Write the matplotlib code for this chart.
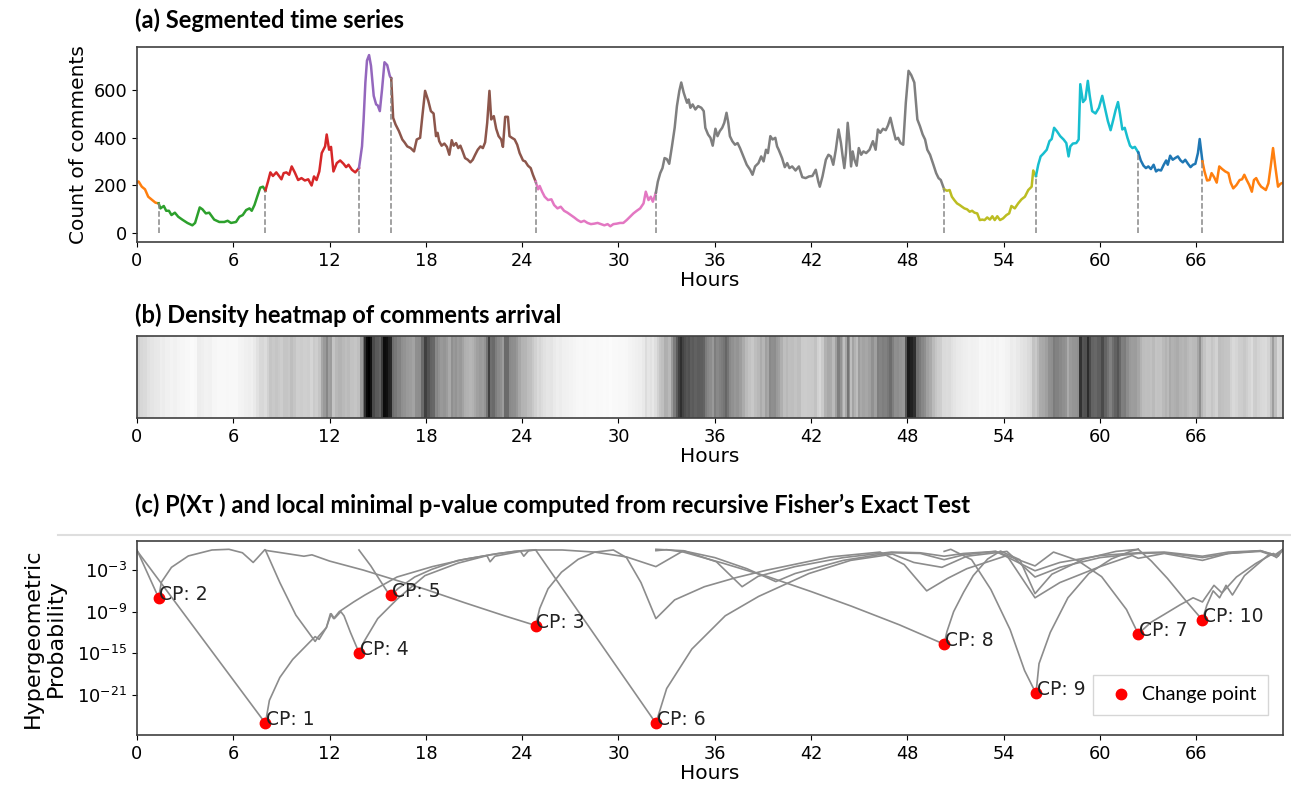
import numpy as np
import matplotlib
matplotlib.use('Agg')
import matplotlib.pyplot as plt
from matplotlib.lines import Line2D

# ---- (a) comment counts (hour, count) ----
hours = [0.0, 0.1, 0.3, 0.5, 0.7, 0.95, 1.15, 1.35,
         1.46, 1.67, 1.82, 1.99, 2.15, 2.36, 2.57, 2.82, 3.14, 3.45, 3.62, 3.91, 4.08, 4.29, 4.50, 4.81,
         5.13, 5.44, 5.65, 5.86, 6.17, 6.38, 6.59, 6.80, 7.01, 7.15, 7.32, 7.49, 7.68, 7.85, 8.0,
         8.16, 8.31, 8.47, 8.68, 8.85, 9.0, 9.14, 9.31, 9.48, 9.64, 9.83, 10.04, 10.25, 10.46, 10.67,
         10.88, 11.03, 11.19, 11.36, 11.51, 11.72, 11.82, 11.97, 12.09, 12.24, 12.45, 12.66, 12.87,
         13.03, 13.18, 13.39, 13.60, 13.83,
         14.02, 14.12, 14.23, 14.33, 14.46, 14.58, 14.75, 14.90, 15.0, 15.13, 15.27, 15.42, 15.59, 15.75, 15.84,
         15.96, 16.11, 16.32, 16.53, 16.67, 16.84, 17.05, 17.26, 17.43, 17.64, 17.78, 17.95, 18.15, 18.31,
         18.48, 18.63, 18.73, 18.83, 18.98, 19.15, 19.31, 19.46, 19.61, 19.73, 19.88, 20.02, 20.15, 20.29,
         20.44, 20.61, 20.77, 20.92, 21.07, 21.23, 21.40, 21.55, 21.69, 21.82, 21.96, 22.07, 22.23, 22.38,
         22.53, 22.69, 22.80, 22.94, 23.11, 23.21, 23.36, 23.53, 23.69, 23.84, 24.05, 24.19, 24.36, 24.53,
         24.67, 24.84,
         24.99, 25.09, 25.24, 25.40, 25.61, 25.82, 25.99, 26.20, 26.40, 26.61, 26.82, 27.03, 27.24, 27.45,
         27.66, 27.86, 28.07, 28.28, 28.49, 28.70, 28.91, 29.12, 29.32, 29.49, 29.68, 29.89, 30.10, 30.30,
         30.51, 30.72, 30.93, 31.14, 31.35, 31.56, 31.70, 31.87, 32.01, 32.14, 32.33,
         32.45, 32.60, 32.74, 32.87, 33.01, 33.16, 33.33, 33.50, 33.64, 33.79, 33.91, 34.06, 34.16, 34.27,
         34.37, 34.48, 34.62, 34.79, 34.96, 35.16, 35.31, 35.41, 35.58, 35.73, 35.87,
         36.04, 36.17, 36.31, 36.46, 36.59, 36.73, 36.84, 36.94, 37.09, 37.26, 37.42, 37.57, 37.78, 37.99,
         38.20, 38.35, 38.51, 38.72, 38.89, 39.04, 39.19, 39.31, 39.46, 39.60, 39.77, 39.88, 39.98, 40.19,
         40.36, 40.51, 40.65, 40.82, 41.03, 41.24, 41.45, 41.66, 41.87, 42.08, 42.29, 42.45, 42.54, 42.71,
         42.92, 43.08, 43.23, 43.38, 43.54, 43.71, 43.86, 43.96, 44.07, 44.17, 44.28, 44.38, 44.49, 44.59,
         44.70, 44.84, 44.97, 45.12, 45.26, 45.43, 45.64, 45.85, 46.02, 46.16, 46.31, 46.48, 46.65, 46.79,
         46.94, 47.11, 47.27, 47.42, 47.57, 47.74, 47.90, 48.07, 48.24, 48.43, 48.62, 48.78, 48.95, 49.10,
         49.24, 49.41, 49.62, 49.79, 49.94, 50.08, 50.29,
         50.46, 50.63, 50.77, 50.92, 51.09, 51.26, 51.40, 51.55, 51.72, 51.88, 52.03, 52.18, 52.35, 52.51,
         52.66, 52.81, 52.97, 53.14, 53.29, 53.44, 53.60, 53.77, 53.96, 54.17, 54.34, 54.48, 54.69, 54.90,
         55.11, 55.32, 55.53, 55.74, 55.84, 56.01,
         56.15, 56.30, 56.46, 56.68, 56.85, 56.99, 57.14, 57.31, 57.52, 57.73, 57.90, 58.04, 58.15, 58.31,
         58.52, 58.67, 58.77, 58.94, 59.09, 59.24, 59.36, 59.51, 59.72, 59.93, 60.14, 60.35, 60.49, 60.66,
         60.83, 60.97, 61.12, 61.25, 61.39, 61.54, 61.71, 61.87, 62.02, 62.17, 62.38,
         62.54, 62.71, 62.86, 63.01, 63.17, 63.34, 63.49, 63.63, 63.80, 63.97, 64.12, 64.22, 64.37, 64.53,
         64.68, 64.85, 65.02, 65.16, 65.31, 65.48, 65.64, 65.79, 65.94, 66.10, 66.21, 66.38,
         66.51, 66.67, 66.82, 66.95, 67.11, 67.27, 67.43, 67.61, 67.80, 68.00, 68.14, 68.30, 68.50, 68.70,
         68.85, 68.99, 69.14, 69.30, 69.46, 69.59, 69.73, 69.89, 70.04, 70.19, 70.33, 70.49, 70.64, 70.78,
         70.92, 71.09, 71.24, 71.40]
counts = [211, 216, 194, 183, 152, 138, 127, 124,
          103, 113, 93, 93, 75, 85, 68, 56, 42, 32, 42, 107, 99, 82, 85, 56,
          46, 46, 51, 42, 46, 68, 75, 96, 103, 93, 117, 152, 190, 194, 177,
          215, 254, 239, 254, 239, 225, 251, 254, 244, 279, 254, 222, 230, 220, 225,
          199, 237, 222, 258, 335, 363, 413, 349, 361, 258, 293, 304, 290,
          276, 286, 265, 254, 272,
          363, 476, 631, 723, 746, 701, 575, 539, 535, 511, 603, 716, 704, 659, 648,
          483, 455, 427, 392, 380, 363, 356, 342, 392, 399, 490, 596, 554, 511,
          501, 406, 420, 385, 366, 375, 361, 328, 389, 366, 377, 356, 366, 342,
          314, 307, 296, 307, 328, 349, 363, 356, 380, 462, 596, 476, 490, 437,
          406, 392, 361, 487, 487, 406, 399, 392, 370, 335, 304, 300, 282, 272,
          244, 215,
          183, 197, 173, 152, 138, 141, 117, 103, 110, 93, 85, 75, 65, 54,
          46, 51, 42, 37, 39, 42, 37, 32, 37, 28, 37, 39, 42, 42,
          54, 68, 82, 93, 103, 124, 173, 138, 152, 131, 169,
          215, 251, 272, 314, 310, 290, 363, 441, 532, 596, 631, 589, 568, 546,
          560, 525, 539, 518, 532, 525, 511, 441, 413, 399, 366,
          437, 406, 427, 441, 462, 504, 462, 406, 385, 370, 377, 356, 321, 286,
          265, 244, 279, 293, 321, 300, 349, 335, 406, 392, 399, 363, 349, 314,
          276, 293, 272, 279, 262, 279, 234, 230, 237, 239, 265, 215, 194, 237,
          307, 328, 321, 286, 349, 434, 377, 324, 272, 335, 462, 392, 279, 342,
          307, 282, 356, 328, 342, 335, 349, 385, 349, 434, 420, 437, 431, 451,
          483, 434, 392, 399, 377, 370, 546, 680, 662, 631, 476, 448, 413, 392,
          349, 328, 286, 251, 230, 222, 183,
          177, 180, 152, 138, 124, 117, 110, 103, 99, 89, 93, 85, 82, 54,
          56, 54, 65, 56, 70, 54, 70, 54, 61, 75, 82, 113, 103, 124,
          141, 152, 180, 194, 262, 239,
          286, 321, 332, 349, 385, 394, 441, 427, 406, 392, 377, 321, 363, 375,
          377, 392, 624, 549, 561, 638, 575, 511, 501, 525, 575, 511, 469, 431,
          476, 515, 549, 497, 434, 441, 399, 366, 356, 361, 338,
          304, 282, 272, 279, 268, 286, 258, 265, 262, 286, 304, 286, 324, 307,
          314, 321, 304, 296, 307, 290, 276, 286, 290, 335, 394, 300,
          258, 220, 222, 251, 234, 211, 279, 268, 258, 251, 211, 187, 201, 222,
          225, 244, 222, 201, 173, 222, 230, 208, 194, 187, 180, 208, 282, 356,
          279, 194, 206, 211]

# ---- change points CP1..CP10 (hour, log10 p) ----
cp_hours = [8.0, 1.35, 24.84, 13.83, 15.84, 32.33, 62.38, 50.29, 56.01, 66.38]
cp_logp = [-25.1, -7.0, -11.0, -14.9, -6.6, -25.1, -12.2, -13.7, -20.8, -10.2]

# ---- (c) hypergeometric probability curves (hour, log10 p) ----
root_h = [0.0, 8.0, 8.25, 8.9, 9.7, 10.8, 11.1, 11.35, 11.8, 12.05, 12.25, 12.6, 13.5, 14.2, 16.2, 18.4,
          20.5, 22.5, 24.0, 24.84, 26.5, 28.5, 30.5, 32.33, 34.05, 36.1, 37.7, 38.7, 41.0, 44.0, 47.0, 48.8,
          50.29, 51.5, 53.5, 55.95, 57.5, 60.0, 62.38, 64.0, 66.38, 68.0, 70.0, 70.9, 71.4]
root_lp = [-0.2, -25.1, -21.8, -18.5, -15.9, -13.3, -12.6, -13.0, -11.3, -9.3, -10.0, -9.0, -7.6, -6.6, -4.0, -2.5,
           -1.4, -0.6, -0.2, -0.1, -0.1, -0.4, -1.1, -2.5, -0.2, -1.8, -5.4, -3.9, -2.5, -1.2, -0.4, -0.5,
           -1.0, -0.6, -0.3, -3.1, -1.9, -0.9, -0.5, -0.4, -1.0, -0.4, -0.2, -0.9, -0.1]
cp2_h = [0.0, 1.35, 1.52, 2.15, 3.2, 4.67, 5.73, 6.57, 7.24, 7.52, 7.95]
cp2_lp = [-0.1, -7.0, -4.75, -2.6, -0.96, -0.1, 0.0, -0.5, -1.9, -1.2, -0.1]
cp3_h = [8.0, 9.0, 10.4, 10.9, 12.0, 14.1, 16.2, 18.0, 20.4, 22.9, 24.84, 25.09, 25.61, 26.45, 27.49, 28.53,
         29.68, 30.5, 31.4, 32.33, 33.5, 35.35, 37.3, 39.26, 43.2, 46.3, 47.8, 49.2, 50.5, 51.7, 54.2, 55.95,
         57.5, 60.0, 62.0, 62.38, 64.0, 66.38, 68.0, 70.0, 70.9, 71.4]
cp3_lp = [-0.15, -0.5, -1.0, -0.8, -1.7, -3.0, -4.5, -5.8, -7.7, -9.6, -11.0, -8.55, -5.7, -3.3, -1.44, -0.4,
          -0.1, -1.2, -4.8, -10.0, -7.3, -5.4, -4.1, -3.0, -1.1, -0.4, -2.2, -6.0, -4.2, -2.8, -0.9, -7.0,
          -4.8, -2.5, -0.9, -1.3, -0.6, -1.6, -0.6, -0.3, -1.0, 0.0]
cp4_h = [8.0, 8.9, 9.9, 11.1, 11.3, 11.8, 12.1, 12.3, 12.7, 12.9, 13.3, 13.83, 14.15, 15.0, 16.25, 17.94,
         20.0, 22.0, 23.5, 24.84]
cp4_lp = [-0.1, -4.8, -9.5, -13.3, -12.6, -11.3, -9.3, -10.0, -9.0, -9.6, -12.0, -14.9, -13.3, -10.0, -7.1, -3.8,
          -2.0, -0.8, -0.3, -0.1]
cp5_h = [13.83, 14.57, 15.09, 15.62, 15.84, 16.25, 17.3, 18.36, 20.0, 21.8, 22.0, 22.3, 23.9, 24.1, 24.4, 24.84]
cp5_lp = [-0.1, -2.4, -4.3, -6.2, -6.6, -5.7, -4.0, -2.9, -1.6, -0.9, -1.8, -1.0, -0.3, -1.0, -0.2, -0.1]
cp6_h = [24.84, 32.33, 33.0, 34.57, 36.65, 38.73, 41.86, 44.46, 47.07, 48.4, 50.15, 51.7, 54.2, 55.95, 57.5,
         60.0, 62.38, 64.0, 66.38, 68.0, 70.0, 70.9, 71.4]
cp6_lp = [-0.1, -25.1, -20.1, -14.4, -9.6, -6.8, -3.5, -1.6, -0.7, -1.9, -2.6, -1.0, -0.3, -4.0, -2.6,
          -1.2, -0.6, -0.5, -1.2, -0.6, -0.2, -0.8, 0.0]
cp7_h = [32.33, 34.0, 36.0, 38.0, 39.8, 41.0, 44.0, 47.0, 48.8, 50.29, 51.5, 53.5, 55.95, 57.1, 58.6, 60.1,
         61.65, 62.38, 63.2, 64.0, 65.0, 65.8, 66.38, 67.1, 67.6, 68.5, 69.7, 70.8, 71.1, 71.4]
cp7_lp = [0.0, -0.2, -1.2, -2.8, -4.66, -3.5, -1.6, -0.5, -0.6, -1.5, -0.8, -0.3, -2.4, -0.4, -1.6, -3.95,
          -8.7, -12.2, -10.5, -9.4, -8.0, -7.0, -7.6, -5.2, -6.3, -4.0, -2.05, -0.6, -1.0, 0.0]
cp8_h = [32.33, 33.0, 34.05, 36.5, 39.3, 42.0, 44.5, 47.5, 50.29, 50.46, 50.88, 51.5, 52.1, 53.0, 53.8, 55.0,
         55.95, 57.0, 59.0, 61.0, 62.38]
cp8_lp = [-0.2, -0.05, -0.4, -2.0, -3.95, -6.1, -8.2, -10.9, -13.7, -11.9, -9.0, -6.2, -3.8, -1.4, -0.25, -1.5,
          -6.4, -3.6, -1.4, -0.3, 0.0]
cp9_h = [50.29, 50.7, 52.0, 53.2, 54.4, 55.3, 56.01, 56.2, 56.9, 58.0, 59.3, 60.7, 62.0, 62.38]
cp9_lp = [-0.3, 0.0, -1.5, -5.8, -11.6, -17.5, -20.8, -16.5, -12.0, -7.0, -3.5, -1.4, -0.2, 0.0]
cp10_h = [62.38, 63.2, 64.2, 65.3, 66.38, 66.65, 67.05, 67.45, 67.85, 68.25, 69.0, 69.9, 70.6, 71.0, 71.4]
cp10_lp = [0.0, -1.7, -4.2, -7.3, -10.2, -8.1, -6.0, -7.0, -5.2, -6.6, -3.8, -2.0, -0.6, -1.2, 0.0]

curves = [(root_h, root_lp), (cp2_h, cp2_lp), (cp3_h, cp3_lp), (cp4_h, cp4_lp), (cp5_h, cp5_lp),
          (cp6_h, cp6_lp), (cp7_h, cp7_lp), (cp8_h, cp8_lp), (cp9_h, cp9_lp), (cp10_h, cp10_lp)]

xticks = list(range(0, 67, 6))

plt.rcParams['font.family'] = 'DejaVu Sans'
plt.rcParams['font.size'] = 12.8

h = np.array(hours)
c = np.array(counts)
xmax = h[-1]
title_font = dict(family=['Lato', 'DejaVu Sans'], weight='bold', size=17)
spine_col = '#404040'

fig = plt.figure(figsize=(12.91, 7.87), dpi=100)
ax_a = fig.add_axes([0.1061, 0.6925, 0.8877, 0.2478])
ax_b = fig.add_axes([0.1061, 0.4689, 0.8877, 0.1042])
ax_c = fig.add_axes([0.1061, 0.0661, 0.8877, 0.2465])

for ax in (ax_a, ax_b, ax_c):
    for s in ax.spines.values():
        s.set_color(spine_col)
        s.set_linewidth(1.2)
    ax.set_xlim(0, xmax)
    ax.set_xticks(xticks)
    ax.set_xlabel('Hours', fontsize=14.5, labelpad=1)

# (a) segmented series
tab10 = plt.get_cmap('tab10').colors
cps = sorted(cp_hours)
bounds = [h[0]] + cps + [xmax]
for i in range(len(bounds) - 1):
    m = (h >= bounds[i] - 1e-9) & (h <= bounds[i + 1] + 1e-9)
    ax_a.plot(h[m], c[m], color=tab10[(i + 1) % 10], lw=1.8)
ax_a.vlines(cps, 0, np.interp(cps, h, c), colors='#888888', linestyles='--', lw=1.1)
ax_a.set_ylim(-38, 780)
ax_a.set_yticks([0, 200, 400, 600])
ax_a.set_ylabel('Count of comments', fontsize=14.5)

# (b) density heatmap
edges = np.concatenate([[h[0]], (h[1:] + h[:-1]) / 2, [h[-1]]])
ax_b.pcolormesh(edges, [0, 1], c[None, :], cmap='Greys', vmin=0, vmax=c.max(), shading='flat')
ax_b.set_ylim(0, 1)
ax_b.set_yticks([])

# (c) p-value curves
for ch, cl in curves:
    ax_c.plot(ch, 10.0 ** np.array(cl), color='#8c8c8c', lw=1.2)
cp_p = 10.0 ** np.array(cp_logp)
ax_c.plot(cp_hours, cp_p, 'o', color='red', ms=7.5, label='Change point', zorder=3)
for i, (x, y) in enumerate(zip(cp_hours, cp_p)):
    ax_c.annotate('CP: %d' % (i + 1), (x, y), xytext=(0.5, 2.5), textcoords='offset points',
                  va='center', ha='left', fontsize=13.5, color='#222222')
ax_c.set_yscale('log')
ax_c.set_ylim(10 ** -26.8, 10 ** 1.2)
ax_c.set_yticks([1e-3, 1e-9, 1e-15, 1e-21])
ax_c.minorticks_off()
ax_c.set_ylabel('Hypergeometric\nProbability', fontsize=16, labelpad=8)
leg = ax_c.legend(loc='lower right', bbox_to_anchor=(0.987, 0.103), borderaxespad=0, fancybox=False,
                  edgecolor='#cccccc', prop=dict(family=['Lato', 'DejaVu Sans'], size=14),
                  handletextpad=0.3, borderpad=0.6, handlelength=1.6, markerscale=1.0)

# titles and separator
fig.text(0.1046, 0.9746, '(a) Segmented time series', va='center', ha='left', **title_font)
fig.text(0.1046, 0.5997, '(b) Density heatmap of comments arrival', va='center', ha='left', **title_font)
fig.text(0.1046, 0.3583, '(c) P(Xτ ) and local minimal p-value computed from recursive Fisher’s Exact Test',
         va='center', ha='left', **title_font)
fig.add_artist(Line2D([0.045, 1.0], [0.3202, 0.3202], color='#dedede', lw=1.5, transform=fig.transFigure))

fig.savefig('out.png', dpi=100)
